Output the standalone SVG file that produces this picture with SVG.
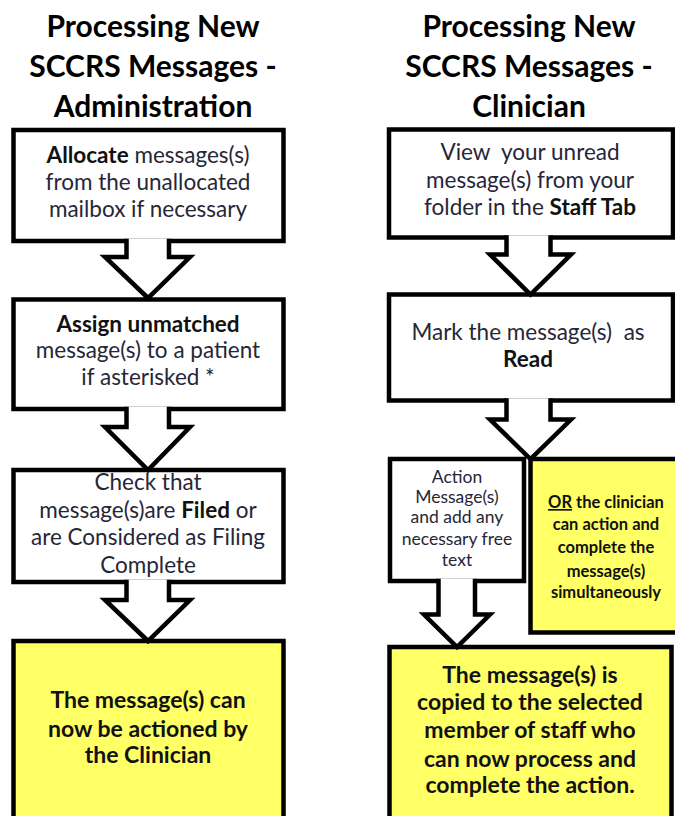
<svg xmlns="http://www.w3.org/2000/svg" width="675" height="816" viewBox="0 0 675 816">
<style>
.box{fill:#ffffff;stroke:#000;stroke-width:4.5;stroke-linejoin:miter}
.yel{fill:#ffff66;stroke:#000;stroke-width:4.5}
.arr{fill:#ffffff;stroke:#000;stroke-width:4.5;stroke-linejoin:miter}
.title{font-family:Lato,"Liberation Sans",sans-serif;font-weight:bold;font-size:30px;fill:#000;text-anchor:middle}
.t{font-family:Lato,"Liberation Sans",sans-serif;font-size:22.5px;fill:#262637;text-anchor:middle;white-space:pre}
.s{font-family:Lato,"Liberation Sans",sans-serif;font-size:17.5px;fill:#262637;text-anchor:middle}
.sb{font-family:Lato,"Liberation Sans",sans-serif;font-size:16.5px;font-weight:bold;fill:#111;text-anchor:middle}
.b{font-weight:bold;fill:#111}
.bt{font-family:Lato,"Liberation Sans",sans-serif;font-size:23px;font-weight:bold;fill:#111;text-anchor:middle}
</style>
<rect width="675" height="816" fill="#ffffff"/>
<g id="title-admin">
<text class="title" x="153" y="37">Processing New</text>
<text class="title" x="153" y="77">SCCRS Messages -</text>
<text class="title" x="153" y="117">Administration</text>
</g>
<g id="title-clinician">
<text class="title" x="529" y="37">Processing New</text>
<text class="title" x="529" y="77">SCCRS Messages -</text>
<text class="title" x="529" y="117">Clinician</text>
</g>
<g id="a1">
<rect class="box" x="13.5" y="130" width="270" height="111"/>
<text class="t" x="148" y="163"><tspan class="b">Allocate</tspan> messages(s)</text>
<text class="t" x="148" y="190">from the unallocated</text>
<text class="t" x="148" y="217">mailbox if necessary</text>
</g>
<g id="a2">
<rect class="box" x="13.5" y="299.5" width="270" height="109.5"/>
<text class="t b" x="148" y="332">Assign unmatched</text>
<text class="t" x="148" y="358">message(s) to a patient</text>
<text class="t" x="148" y="385">if asterisked *</text>
</g>
<g id="a3">
<rect class="box" x="13.5" y="470" width="270" height="112"/>
<text class="t" x="148" y="490">Check that</text>
<text class="t" x="148" y="518">message(s)are <tspan class="b">Filed</tspan> or</text>
<text class="t" x="148" y="545">are Considered as Filing</text>
<text class="t" x="148" y="573">Complete</text>
</g>
<g id="a4">
<rect class="yel" x="13.5" y="641" width="270" height="200"/>
<text class="bt" x="148" y="708">The message(s) can</text>
<text class="bt" x="148" y="737">now be actioned by</text>
<text class="bt" x="148" y="763">the Clinician</text>
</g>
<g id="c1">
<rect class="box" x="389" y="129.5" width="284" height="108"/>
<text class="t" x="530" y="160">View  your unread</text>
<text class="t" x="530" y="188">message(s) from your</text>
<text class="t" x="530" y="215">folder in the <tspan class="b">Staff Tab</tspan></text>
</g>
<g id="c2">
<rect class="box" x="389" y="294.5" width="284" height="106"/>
<text class="t" x="528" y="340">Mark the message(s)  as</text>
<text class="t b" x="528" y="367">Read</text>
</g>
<g id="c3">
<rect class="box" x="390" y="459" width="134" height="122"/>
<text class="s" x="457" y="483">Action</text>
<text class="s" x="457" y="503">Message(s)</text>
<text class="s" x="457" y="523">and add any</text>
<text class="s" x="457" y="545">necessary free</text>
<text class="s" x="457" y="566">text</text>
</g>
<g id="c4">
<rect class="yel" x="530.5" y="459" width="160" height="173.5"/>
<text class="sb" x="606" y="508"><tspan text-decoration="underline">OR</tspan> the clinician</text>
<text class="sb" x="606" y="530">can action and</text>
<text class="sb" x="606" y="553">complete the</text>
<text class="sb" x="606" y="577">message(s)</text>
<text class="sb" x="606" y="598">simultaneously</text>
</g>
<g id="c5">
<rect class="yel" x="389.5" y="647" width="282" height="200"/>
<text class="bt" x="530" y="683">The message(s) is</text>
<text class="bt" x="530" y="710">copied to the selected</text>
<text class="bt" x="530" y="738">member of staff who</text>
<text class="bt" x="530" y="767">can now process and</text>
<text class="bt" x="530" y="793">complete the action.</text>
</g>
<g id="connectors">
<path class="arr" d="M126.5,238.8 V257 H105 L148,298 L190,257 H169 V238.8"/>
<path class="arr" d="M126.5,406.8 V427 H105 L148,470 L190,427 H169 V406.8"/>
<path class="arr" d="M126.5,579.8 V600 H105 L148,641 L190,600 H169 V579.8"/>
<path class="arr" d="M506.5,235.3 V254.5 H490 L530.5,294.5 L571,254.5 H550.5 V235.3"/>
<path class="arr" d="M506.5,398.3 V419.5 H490 L530.5,459 L571,419.5 H550.5 V398.3"/>
<path class="arr" d="M438.5,578.8 V614.5 H424 L457,647 L490,614.5 H475 V578.8"/>
</g>
</svg>
